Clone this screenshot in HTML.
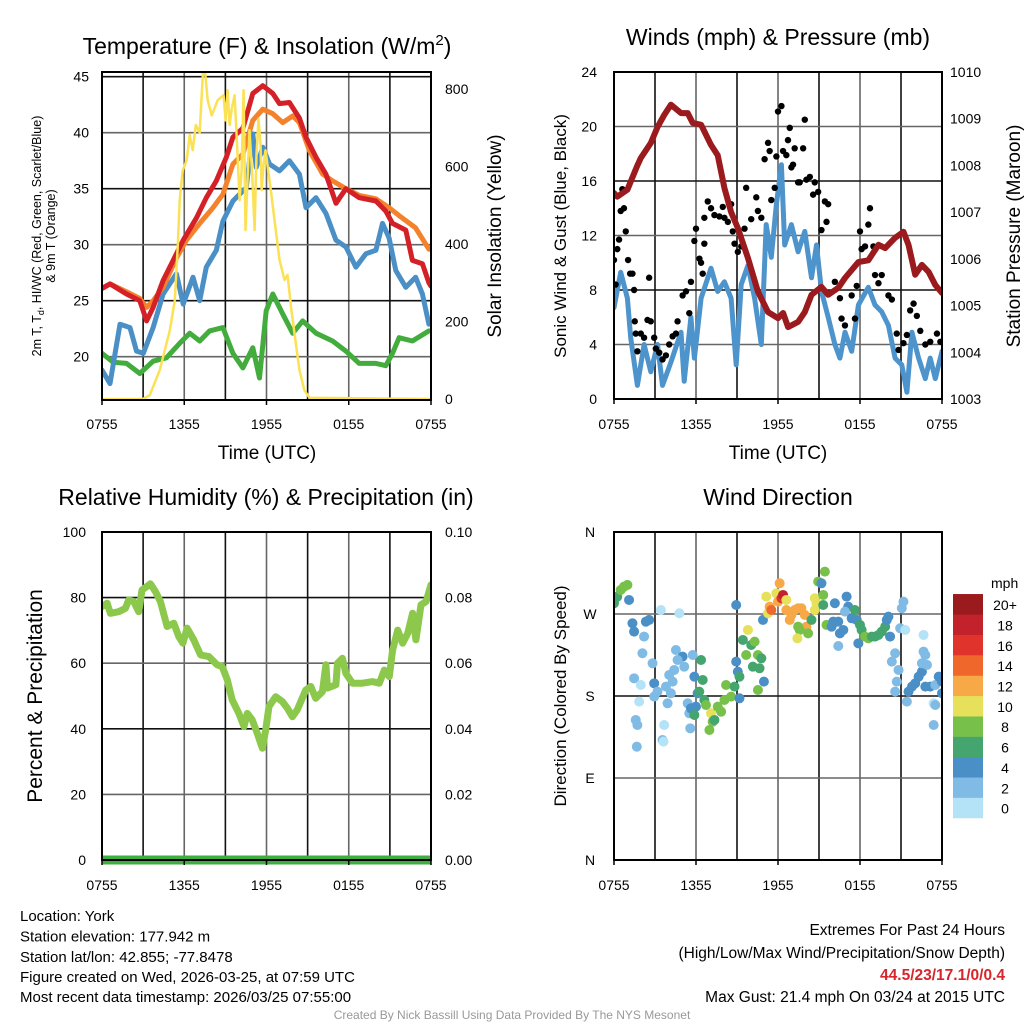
<!DOCTYPE html>
<html><head><meta charset="utf-8"><style>
html,body{margin:0;padding:0;background:#fff;}
svg{display:block;font-family:"Liberation Sans",Arial,sans-serif;}
</style></head><body>
<svg id="chart" width="1024" height="1024" viewBox="0 0 1024 1024" xmlns="http://www.w3.org/2000/svg">
<rect x="0" y="0" width="1024" height="1024" fill="#fff"/>
<text x="267" y="54" font-size="23" text-anchor="middle">Temperature (F) &amp; Insolation (W/m<tspan dy="-9" font-size="15">2</tspan><tspan dy="9">)</tspan></text>
<text x="778" y="45" font-size="23" text-anchor="middle">Winds (mph) &amp; Pressure (mb)</text>
<text x="266" y="505" font-size="23" text-anchor="middle">Relative Humidity (%) &amp; Precipitation (in)</text>
<text x="778" y="505" font-size="23" text-anchor="middle">Wind Direction</text>

<text transform="translate(41,236) rotate(-90)" font-size="12.5" text-anchor="middle">2m T, T<tspan dy="3" font-size="9">d</tspan><tspan dy="-3">, HI/WC (Red, Green, Scarlet/Blue)</tspan></text>
<text transform="translate(55,236) rotate(-90)" font-size="12.5" text-anchor="middle">&amp; 9m T (Orange)</text>
<text transform="translate(501,236) rotate(-90)" font-size="19" text-anchor="middle">Solar Insolation (Yellow)</text>
<text x="267" y="459" font-size="19" text-anchor="middle">Time (UTC)</text>
<text transform="translate(566,236) rotate(-90)" font-size="17" text-anchor="middle">Sonic Wind &amp; Gust (Blue, Black)</text>
<text transform="translate(1020,236) rotate(-90)" font-size="19" text-anchor="middle">Station Pressure (Maroon)</text>
<text x="778" y="459" font-size="19" text-anchor="middle">Time (UTC)</text>
<text transform="translate(42,696) rotate(-90)" font-size="21" text-anchor="middle">Percent &amp; Precipitation</text>
<text transform="translate(566,696) rotate(-90)" font-size="17" text-anchor="middle">Direction (Colored By Speed)</text>

<g font-size="15">
<text x="20" y="921">Location: York</text>
<text x="20" y="941.5">Station elevation: 177.942 m</text>
<text x="20" y="962">Station lat/lon: 42.855; -77.8478</text>
<text x="20" y="982">Figure created on Wed, 2026-03-25, at 07:59 UTC</text>
<text x="20" y="1002">Most recent data timestamp: 2026/03/25 07:55:00</text>
</g>
<g font-size="15.5" text-anchor="end">
<text x="1005" y="935">Extremes For Past 24 Hours</text>
<text x="1005" y="958">(High/Low/Max Wind/Precipitation/Snow Depth)</text>
<text x="1005" y="980" fill="#d7262b" font-weight="bold">44.5/23/17.1/0/0.4</text>
<text x="1005" y="1002">Max Gust: 21.4 mph On 03/24 at 2015 UTC</text>
</g>
<text x="512" y="1019" font-size="12" fill="#999" text-anchor="middle">Created By Nick Bassill Using Data Provided By The NYS Mesonet</text>
<g id="layer"></g>
</svg>
<script>
// ---- time axis labels ----
const xTickLabels = ["0755","1355","1955","0155","0755"];
// ---- Temperature panel data (hours since 0755) ----
const tempRedT = [0,0.58,1.79,2.76,3.25,3.73,4.46,5.07,5.92,6.89,7.61,8.34,9.07,9.55,10.28,11.0,11.73,12.46,12.95,13.67,14.4,14.88,15.61,16.33,17.07,17.79,18.76,19.98,20.7,21.19,22.16,22.64,23.37,23.85,24];
const tempRedV = [26.1,26.5,25.6,25,23.2,24.4,26.8,28.3,30.4,32.4,34.2,35.7,37.8,39.6,40.4,43.5,44.2,43.5,42.6,42.7,41.3,39.6,37.8,36.3,33.7,35,34.2,33.9,33,31.9,31.3,28.6,28.3,26.6,26.3];
const tempOrangeT = [0,0.58,1.79,2.76,3.25,3.73,4.46,5.43,6.16,7.13,8.10,8.82,9.55,10.28,11.0,11.73,12.46,13.19,13.91,14.4,15.13,16.1,16.82,17.79,18.76,19.98,20.94,21.67,22.88,23.85];
const tempOrangeV = [26.1,26.5,25.8,25.2,24.4,25,26.2,28.8,30.4,31.9,33.3,34.5,37.2,38.1,41.1,42.1,41.7,40.9,41.5,40.9,38.4,36.3,35.7,35,34.4,34.1,33.3,32.6,31.5,29.6];
const tempBlueT = [0,0.58,1.31,2.04,2.52,3.01,3.73,4.46,5.43,5.92,6.64,7.13,7.61,8.34,8.82,9.55,10.52,11.0,11.25,11.73,12.22,12.95,13.67,14.4,14.88,15.61,16.33,17.07,17.79,18.52,19.25,19.98,20.46,20.94,21.43,22.16,22.88,23.37,23.85];
const tempBlueV = [18.8,17.6,22.9,22.6,20.5,20.3,22.6,25.6,27.4,24.7,27.1,25,28,29.5,32.1,33.9,35.1,39.9,36.9,38.7,37.2,36.6,37.5,36.3,33.3,34.2,32.8,30.4,29.8,28,29.2,29.5,31.9,30.6,27.7,26.2,27.1,25.6,22.9];
const tempGreenT = [0,0.82,1.79,2.76,3.73,4.70,5.67,6.40,7.13,7.85,8.82,9.55,10.28,11.0,11.49,11.98,12.46,13.19,13.91,14.64,15.61,16.82,17.79,18.76,19.98,20.7,21.19,21.67,22.64,23.85];
const tempGreenV = [20.3,19.5,19.4,18.5,19.6,19.9,21.2,22.1,21.4,22.3,22.6,20.3,19,20.8,18.1,24.1,25.6,23.8,22.1,23.2,22.1,21.4,20.5,19.4,19.4,19.2,20.3,21.7,21.4,22.3];
const solarT = [0,2.98,3.49,4.22,4.95,5.31,5.53,5.67,5.89,6.18,6.4,6.62,6.84,7.13,7.35,7.49,7.71,8.0,8.44,8.87,9.02,9.16,9.31,9.45,9.67,9.82,10.04,10.18,10.33,10.47,10.76,10.98,11.13,11.27,11.42,11.56,11.64,11.78,11.93,12.22,12.36,12.58,12.95,13.31,13.53,13.82,14.11,14.4,14.76,15.13,24];
const solarV = [0,0,10,75,178,255,397,513,590,616,681,642,707,688,836,855,771,732,771,784,719,797,707,745,784,681,513,590,797,436,694,565,436,632,723,658,539,603,642,565,527,462,359,307,320,230,152,75,23,3,0];
const tempTicks = [20,25,30,35,40,45];
const solarTicks = [0,200,400,600,800];
// ---- Wind panel data ----
const presT = [0,0.24,0.98,1.71,1.96,2.69,3.18,3.67,4.16,4.9,5.39,5.76,6.37,7.1,7.59,8.08,8.57,9.06,9.8,10.53,11.27,12.0,12.37,12.74,13.47,13.96,14.45,15.18,15.67,16.41,16.9,17.88,18.61,19.35,19.84,20.57,21.18,21.55,22.04,22.53,23.02,23.51,24];
const presV = [1007.41,1007.33,1007.48,1008.0,1008.16,1008.48,1008.82,1009.08,1009.3,1009.12,1009.12,1008.91,1008.87,1008.44,1008.22,1007.52,1007.0,1006.66,1006.02,1005.3,1004.86,1004.73,1004.84,1004.54,1004.65,1004.86,1005.23,1005.4,1005.23,1005.38,1005.59,1005.93,1005.97,1006.3,1006.23,1006.45,1006.58,1006.3,1005.66,1005.87,1005.72,1005.44,1005.27];
const sonicT = [0,0.49,0.98,1.22,1.71,2.2,2.69,3.18,3.55,4.16,4.9,5.14,5.63,5.88,6.37,7.1,7.59,8.08,8.57,8.94,9.31,9.8,10.29,10.78,11.14,11.51,11.88,12.25,12.49,12.98,13.47,13.96,14.45,14.82,15.18,15.67,16.16,16.53,16.9,17.39,17.88,18.61,19.1,19.59,20.08,20.57,21.06,21.43,21.8,22.29,22.78,23.14,23.51,24];
const sonicV = [6.7,9.3,7.4,4.5,1.0,4.0,2.0,4.0,1.0,2.7,4.9,1.3,6.0,3.0,7.4,9.6,7.9,8.6,7.4,2.5,8.4,9.8,7.4,4.0,12.8,10.4,14.3,17.2,11.3,12.8,10.8,12.3,8.9,11.3,7.9,6.0,4.0,3.0,4.9,3.5,6.9,8.2,6.9,6.4,5.4,3.0,2.5,0.5,4.9,3.0,1.5,3.0,1.5,3.5];
const gustT = [0,0.12,0.24,0.37,0.49,0.61,0.73,0.86,1.03,1.18,1.35,1.47,1.52,1.59,1.71,1.96,2.2,2.45,2.57,2.69,2.94,3.06,3.31,3.55,3.8,4.04,4.29,4.53,4.65,5.02,5.27,5.51,5.63,5.88,6.0,6.25,6.37,6.49,6.61,6.61,6.86,7.1,7.35,7.71,7.96,8.08,8.33,8.57,8.69,8.82,9.06,9.31,9.55,9.67,10.04,10.41,10.53,10.78,11.02,11.27,11.39,11.51,11.76,11.88,12.0,12.25,12.37,12.61,12.73,12.86,12.98,13.1,13.22,13.47,13.59,13.84,13.96,14.08,14.33,14.57,14.69,14.94,15.18,15.43,15.55,15.67,16.16,16.53,16.65,16.9,17.39,17.63,17.76,18.0,18.12,18.37,18.61,18.73,18.98,19.1,19.35,19.59,20.08,20.33,20.69,20.82,21.18,21.43,21.67,21.92,22.16,22.41,22.78,23.14,23.63,23.88];
const gustV = [10.2,8.4,11.0,11.7,13.8,15.4,14.0,12.3,10.2,9.2,9.2,8.0,5.7,4.8,3.5,4.8,4.5,5.8,8.9,5.7,4.5,3.7,3.4,2.9,3.2,4.0,4.6,4.8,5.7,7.6,7.9,6.3,8.6,11.6,12.5,10.3,10.0,9.2,11.4,13.3,14.5,14.0,13.5,13.4,14.1,13.3,13.0,14.3,12.3,11.4,10.8,11.2,12.5,15.5,13.2,14.8,13.8,13.3,17.6,18.8,18.2,14.6,15.5,17.8,21.1,21.5,18.2,17.9,19.0,19.9,17.0,17.2,18.4,15.9,15.9,18.4,20.5,16.1,16.3,15.0,15.9,15.2,12.4,14.5,13.0,14.3,8.6,7.4,5.9,5.4,7.6,5.9,8.3,12.3,11.0,11.2,12.8,14.0,11.2,9.1,8.5,9.1,7.6,7.3,4.8,3.6,4.1,4.7,6.5,7.0,6.1,5.0,4.0,4.2,4.8,4.2];
const windTicks = [0,4,8,12,16,20,24];
const presTicks = [1003,1004,1005,1006,1007,1008,1009,1010];
// ---- Humidity panel data ----
const rhT = [0,0.37,0.61,1.22,1.71,1.95,2.31,2.68,2.92,3.53,3.9,4.26,4.75,5.24,5.6,5.9,6.21,6.7,7.19,7.8,8.4,8.77,9.14,9.5,9.99,10.36,10.6,10.96,11.33,11.7,11.94,12.18,12.67,13.16,13.52,13.89,14.25,14.86,15.23,15.59,16.08,16.33,16.45,17.06,17.18,17.54,17.79,18.27,19.0,19.74,20.23,20.59,20.96,21.2,21.57,21.93,22.3,22.66,22.9,23.27,23.64,24];
const rhV = [77.3,78.3,75.2,75.7,76.7,79.3,78.8,75.7,82.3,84.2,81.8,78.8,71.2,72.2,68.1,66.1,70.7,67.1,62.5,62,59.5,59,54.9,48.8,44.7,40.7,44.7,42.7,38.6,34.1,39.7,46.8,49.8,48.3,46.3,43.7,45.8,51.8,52.9,49.3,51.3,59.5,52.4,53.4,60,61.5,56.9,53.9,53.9,54.4,53.9,57.9,55.9,64,70.1,66.1,69.1,75.2,67.1,77.8,78.8,83.9];
const precipT = [0,24];
const precipV = [0,0];
const rhTicks = [0,20,40,60,80,100];
const precipTicks = ["0.00","0.02","0.04","0.06","0.08","0.10"];
// ---- Wind direction data ----
const dirT = [0,0.24,0.49,0.73,0.98,1.1,1.35,1.47,2.33,2.57,2.2,2.08,2.82,3.43,4.78,1.47,1.96,1.84,1.59,1.71,2.94,2.94,3.18,3.67,3.55,4.53,5.02,4.65,5.14,5.76,4.41,4.04,4.29,3.8,3.92,4.16,5.39,5.51,5.63,5.88,6.12,6.0,6.37,6.49,6.24,5.88,6.61,6.73,7.1,7.22,7.59,7.84,7.35,6.98,8.08,8.2,8.57,8.82,8.94,9.06,9.18,9.18,9.43,9.8,9.67,10.04,10.29,10.16,10.53,10.78,10.65,10.53,10.97,10.9,8.94,11.27,11.14,11.39,11.51,11.88,12.0,12.12,12.25,12.37,12.61,12.61,12.86,12.98,13.22,13.47,13.71,13.96,14.08,13.59,13.47,13.42,14.2,14.45,14.69,14.82,14.69,14.94,15.18,15.31,15.43,15.31,15.55,15.92,16.04,16.16,16.41,16.53,16.78,16.41,17.02,17.14,16.9,17.39,17.63,17.76,17.88,18.0,18.12,18.37,18.61,18.86,19.1,19.35,19.59,19.84,19.96,20.08,20.2,20.33,20.57,20.82,20.69,20.57,20.94,21.06,21.18,21.31,21.55,21.8,22.04,22.29,22.53,21.43,22.65,22.65,22.78,22.53,22.9,23.14,23.51,23.39,23.51,23.76,24,24,23.39,22.78,1.67,3.62,5.58];
const dirDeg = [281.8,289,296.4,300,301.9,285.4,259.8,250.7,261.6,263.5,245.2,226.9,215.9,274.4,270.8,199.4,192.1,173.8,153.7,148.2,193.9,179.3,184.8,148.2,131.7,230.5,223.2,219.5,212.2,225,208.6,203.1,195.8,190.3,172,183,172,161,166.5,201.2,183,168.3,219.5,197.6,184.8,159.2,175.6,170.1,161,151.8,168.3,162.8,153.7,142.7,175.6,192.1,179.3,190.3,217.7,206.7,201.2,177.5,241.5,252.5,225,236,239.7,212.2,225,221.4,210.4,186.6,195.8,263.5,279.9,270.8,289.1,278.1,274.4,292.7,283.6,303.7,287.3,290.9,285.4,274.4,263.5,269,274.4,276.3,276.3,269,256.1,252.5,256.1,243.3,248.8,263.5,274.4,281.8,287.3,305.6,303.7,290.9,316.5,279.9,258,256.1,261.6,281.8,261.6,248.8,252.5,234.9,289.1,278.1,272.6,265.3,274.4,263.5,237.8,258,252.5,245.2,243.3,245.2,245.2,247,250.7,256.1,263.5,267.1,245.2,217.7,226.9,208.6,195.8,184.8,254.3,276.3,283.6,252.5,184.8,190.3,193.9,201.2,206.7,173.8,247,228.7,225,215.9,214.1,190.3,192.1,172,170.1,201.2,195.8,183,148.2,190.3,124.4,129.9,144.5];
const dirSpd = [6,6,8,8,8,4,4,4,4,4,2,2,2,0,0,2,0,0,2,2,4,2,2,0,2,2,4,2,2,2,2,2,2,2,2,2,2,2,4,4,4,4,6,6,6,6,6,8,10,8,8,8,6,8,8,8,8,6,4,4,6,4,6,10,8,6,8,6,8,6,6,8,4,4,4,10,10,12,14,10,12,12,16,18,10,12,12,12,12,12,12,12,12,8,8,10,8,6,10,10,10,8,4,8,8,6,8,4,4,4,4,4,4,2,4,4,2,4,6,4,4,6,6,8,8,6,6,6,6,6,4,4,4,2,2,2,2,2,2,2,2,0,4,4,4,4,4,2,0,2,2,2,2,4,2,0,2,4,4,4,2,4,2,0,2];
const dirTicks = ["N","E","S","W","N"];
const speedBins = ["0","2","4","6","8","10","12","14","16","18","20+"];
const speedColors = ["#b4e2f7","#7fbbe5","#4a8fc6","#45a56e","#77c04a","#e6e05a","#f7a847","#ef672b","#e0332c","#c1222b","#9b1a1e"];

// ---- drawing ----
const NS = "http://www.w3.org/2000/svg";
const layer = document.getElementById("layer");
function mk(tag, attrs, parent) {
  const e = document.createElementNS(NS, tag);
  for (const k in attrs) e.setAttribute(k, attrs[k]);
  (parent || layer).appendChild(e);
  return e;
}
function panel(x0, x1, y0, y1) {
  return {x0, x1, y0, y1, xs: h => x0 + (x1 - x0) * h / 24};
}
function lin(v0, p0, v1, p1) { return v => p0 + (v - v0) * (p1 - p0) / (v1 - v0); }
function poly(ts, vs, xs, ys) {
  return ts.map((t, i) => xs(t).toFixed(1) + "," + ys(vs[i]).toFixed(1)).join(" ");
}
function grid(p, hYs, name) {
  const g = mk("g", {});
  
  
  for (let h = 3; h < 24; h += 3) {
    const x = p.xs(h);
    const l = mk("line", {x1: x, x2: x, y1: p.y0, y2: p.y1, stroke: (h % 6 === 0) ? "#666" : "#111", "stroke-width": 1.6}, g);
    
    
  }
  hYs.forEach((y, i) => {
    const l = mk("line", {x1: p.x0, x2: p.x1, y1: y, y2: y, stroke: i % 2 ? "#111" : "#666", "stroke-width": 1.6}, g);
    
    
  });
}
function frame(p, name) {
  const r = mk("rect", {x: p.x0, y: p.y0, width: p.x1 - p.x0, height: p.y1 - p.y0, fill: "none", stroke: "#000", "stroke-width": 2});
  
  
}
function xLabels(p, y, name) {
  xTickLabels.forEach((s, i) => {
    const x = p.xs(i * 6);
    const t = mk("text", {x: x, y: y, "font-size": 14, "text-anchor": "middle"});
    t.textContent = s;
    
    
    mk("line", {x1: x, x2: x, y1: p.y1, y2: p.y1 + 5, stroke: "#000", "stroke-width": 1.5});
  });
}
function yLabel(x, y, s, anchor, name) {
  const t = mk("text", {x: x, y: y + 5, "font-size": 14, "text-anchor": anchor});
  t.textContent = s;
  
  
}
function clip(id, p) {
  const c = mk("clipPath", {id: id});
  mk("rect", {x: p.x0, y: p.y0, width: p.x1 - p.x0, height: p.y1 - p.y0}, c);
}
function series(ts, vs, xs, ys, color, w, name, clipId) {
  const l = mk("polyline", {points: poly(ts, vs, xs, ys), fill: "none", stroke: color, "stroke-width": w, "stroke-linejoin": "round", "stroke-linecap": "round", "clip-path": "url(#" + clipId + ")"});
  
  
}

// Panel 1: temperature
const P1 = panel(102, 431, 72, 400);
const yT = lin(45, 76.7, 20, 356.7);
const yS = lin(0, 399, 800, 89);
clip("c1", P1);
grid(P1, tempTicks.map(yT), "temperature");
series(tempGreenT, tempGreenV, P1.xs, yT, "#42ad3c", 5, "dewpoint-line", "c1");
series(tempBlueT, tempBlueV, P1.xs, yT, "#4a8fc6", 5, "windchill-line", "c1");
series(tempOrangeT, tempOrangeV, P1.xs, yT, "#f4812c", 5, "temp-9m-line", "c1");
series(tempRedT, tempRedV, P1.xs, yT, "#d42027", 5, "temp-2m-line", "c1");
series(solarT, solarV, P1.xs, yS, "#fbe154", 2.5, "solar-insolation-line", "c1");
frame(P1, "temperature");
tempTicks.forEach(v => yLabel(89, yT(v), String(v), "end", "temperature-y-tick-label"));
solarTicks.forEach(v => yLabel(445, yS(v), String(v), "start", "solar-y-tick-label"));
xLabels(P1, 429, "temperature");

// Panel 2: winds
const P2 = panel(614, 942, 72, 399);
const yW = lin(0, 399, 24, 72);
const yP = lin(1003, 399, 1010, 72);
clip("c2", P2);
grid(P2, windTicks.slice(1, 6).map(yW), "wind");
series(sonicT, sonicV, P2.xs, yW, "#4d93cc", 5, "sonic-wind-line", "c2");
const gg = mk("g", {"clip-path": "url(#c2)"});


gustT.forEach((t, i) => {
  const c = mk("circle", {cx: P2.xs(t), cy: yW(gustV[i]), r: 3.2, fill: "#000"}, gg);
  
  
});
series(presT, presV, P2.xs, yP, "#9b1a1e", 6, "pressure-line", "c2");
frame(P2, "wind");
windTicks.forEach(v => yLabel(597, yW(v), String(v), "end", "wind-y-tick-label"));
presTicks.forEach(v => yLabel(950, yP(v), String(v), "start", "pressure-y-tick-label"));
xLabels(P2, 429, "wind");

// Panel 3: humidity
const P3 = panel(102, 431, 532, 860);
const yR = lin(0, 860, 100, 532);
clip("c3", P3);
grid(P3, rhTicks.slice(1, 5).map(yR), "humidity");
series(rhT, rhV, P3.xs, yR, "#8cc84b", 7, "humidity-line", "c3");
const pl = mk("polyline", {points: poly(precipT, precipV, P3.xs, v => 860 - v * 3280), fill: "none", stroke: "#3fae40", "stroke-width": 9});


frame(P3, "humidity");
rhTicks.forEach(v => yLabel(86, yR(v), String(v), "end", "humidity-y-tick-label"));
precipTicks.forEach((s, i) => yLabel(445, yR(i * 20), s, "start", "precip-y-tick-label"));
xLabels(P3, 890, "humidity");

// Panel 4: wind direction
const P4 = panel(614, 942, 532, 860);
const yD = lin(0, 860, 360, 532);
clip("c4", P4);
grid(P4, [90, 180, 270].map(yD), "direction");
const dg = mk("g", {"clip-path": "url(#c4)"});


dirT.forEach((t, i) => {
  const c = mk("circle", {cx: P4.xs(t), cy: yD(dirDeg[i]), r: 5, fill: speedColors[Math.min(10, Math.floor(dirSpd[i] / 2))]}, dg);
  
  
});
frame(P4, "direction");
dirTicks.forEach((s, i) => yLabel(590, yD(i * 90), s, "middle", "direction-y-tick-label"));
xLabels(P4, 890, "direction");

// colorbar
const cb = mk("g", {});


const cbTitle = mk("text", {x: 991, y: 588, "font-size": 14}, cb);
cbTitle.textContent = "mph";


speedBins.forEach((s, i) => {
  const y = 818 - (i + 1) * 20.36;
  const r = mk("rect", {x: 953, y: y, width: 30, height: 20.6, fill: speedColors[i]}, cb);
  
  
  const t = mk("text", {x: 1005, y: y + 16, "font-size": 14, "text-anchor": "middle"}, cb);
  t.textContent = s;
  
  
});
</script>
</body></html>
